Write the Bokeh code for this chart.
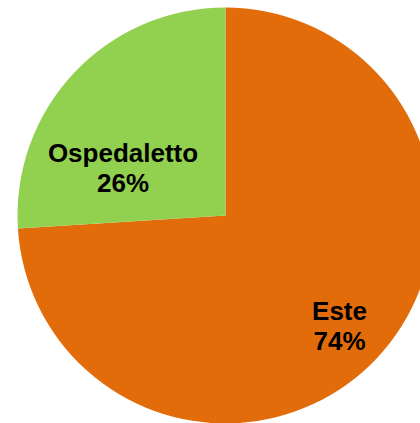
import math
from bokeh.plotting import figure
from bokeh.models import ColumnDataSource, Range1d
from bokeh.core.properties import value
from bokeh.embed import file_html
from bokeh.resources import INLINE

# Data
categories = ["Este", "Ospedaletto"]
shares = [74, 26]
colors = ["#E36C0A", "#92D050"]

# Layout (pixel-like data units)
W, H = 420, 423
cx, cy, R = 225, 208, 208

total = sum(shares)
starts, ends = [], []
a = math.pi / 2
for v in shares:
    span = 2 * math.pi * v / total
    starts.append(a)
    ends.append(a - span)
    a -= span

src = ColumnDataSource(dict(cat=categories, start=starts, end=ends, color=colors))

p = figure(width=W, height=H, output_backend="svg", toolbar_location=None,
           x_range=Range1d(0, W), y_range=Range1d(0, H), min_border=0)
p.axis.visible = False
p.grid.visible = False
p.outline_line_color = None
p.background_fill_color = "white"

p.wedge(x=cx, y=cy, radius=R, start_angle="start", end_angle="end",
        direction="clock", fill_color="color", line_color=None, source=src)

# label anchors (relative to centre) for each slice: (dx, dy of first line)
anchors = {"Este": (114, -95), "Ospedaletto": (-102.5, 63)}
lx, ly1, ly2, t1, t2 = [], [], [], [], []
for c, v in zip(categories, shares):
    dx, dy = anchors[c]
    lx.append(cx + dx)
    ly1.append(cy + dy)
    ly2.append(cy + dy - 30)
    t1.append(c)
    t2.append(f"{v}%")

lsrc = ColumnDataSource(dict(x=lx, y1=ly1, y2=ly2, t1=t1, t2=t2))
for ycol, tcol in (("y1", "t1"), ("y2", "t2")):
    p.text(x="x", y=ycol, text=tcol, source=lsrc, text_align="center",
           text_baseline="alphabetic", text_font=value("Liberation Sans"),
           text_font_style="bold", text_font_size="26px", text_color="black")

open("out.html", "w").write(file_html(p, INLINE))
